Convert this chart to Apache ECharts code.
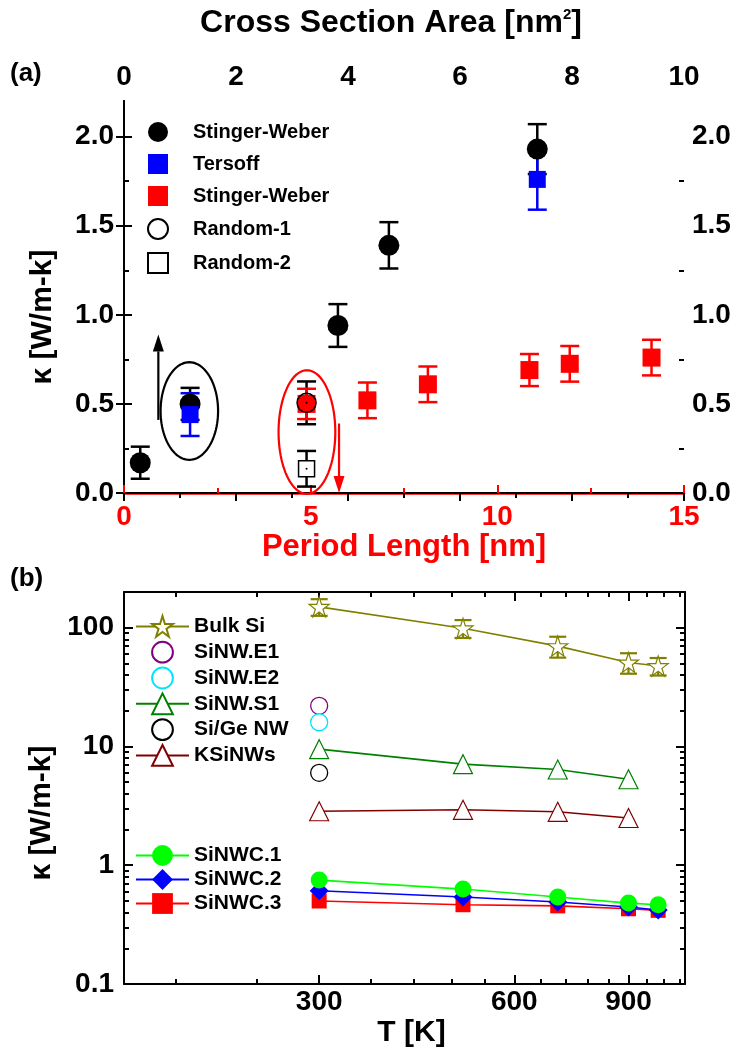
<!DOCTYPE html>
<html><head><meta charset="utf-8">
<script src="https://cdn.jsdelivr.net/npm/echarts@6/dist/echarts.min.js"></script>
<style>html,body{margin:0;padding:0;background:#fff}#c{width:739px;height:1055px}</style>
</head><body><div id="c"></div>
<script>
// ---------------- Panel (a) data ----------------
const areaSW = [0.29, 1.18, 3.82, 4.73, 7.38];          // Cross Section Area [nm^2]
const kappaSW = [0.17, 0.50, 0.94, 1.39, 1.93];
const errSW = [0.09, 0.09, 0.12, 0.13, 0.14];
const areaTersoff = [1.18, 7.38];
const kappaTersoff = [0.44, 1.76];
const errTersoff = [0.12, 0.17];
const periodSW = [4.89, 6.52, 8.14, 10.86, 11.94, 14.13]; // Period Length [nm]
const kappaSWp = [0.50, 0.52, 0.61, 0.69, 0.725, 0.76];
const errSWp = [0.085, 0.10, 0.10, 0.09, 0.10, 0.10];
const periodR1 = [4.89], kappaR1 = [0.506], errR1 = [0.12];
const periodR2 = [4.89], kappaR2 = [0.136], errR2 = [0.10];
// annotations in (period, kappa) units: [cx, cy, rx, ry] and [x, yFrom, yTo]
const ellipseBlack = [1.75, 0.46, 0.77, 0.274];
const ellipseRed = [4.90, 0.342, 0.76, 0.347];
const arrowBlack = [0.92, 0.41, 0.89];
const arrowRed = [5.76, 0.39, 0.0];
const kTicksA = [0, 0.5, 1, 1.5, 2];
const kMinorA = [0.25, 0.75, 1.25, 1.75];

// ---------------- Panel (b) data ----------------
const tBulk = [300, 500, 700, 900, 1000];
const kBulk = [150, 99, 70, 51, 47.6];
const eBulk = [24, 17, 14, 10, 8];
const tE = [300];
const kE1 = [22];
const kE2 = [16];
const kSiGe = [6.0];
const tS = [300, 500, 700, 900];
const kS1 = [9.5, 7.1, 6.4, 5.3];
const kKS = [2.85, 2.93, 2.82, 2.5];
const tC = [300, 500, 700, 900, 1000];
const kC1 = [0.75, 0.63, 0.54, 0.48, 0.465];
const kC2 = [0.61, 0.54, 0.49, 0.445, 0.42];
const kC3 = [0.50, 0.465, 0.455, 0.43, 0.417];
const tTicks = [300, 600, 900];
const tMinor = [180, 240, 360, 420, 480, 540, 660, 720, 780, 840, 960, 1020, 1080];
const kTicksB = [0.1, 1, 10, 100];
const kMinorB = [0.2,0.3,0.4,0.5,0.6,0.7,0.8,0.9,2,3,4,5,6,7,8,9,20,30,40,50,60,70,80,90];

const FONT = 'Liberation Sans, Arial, sans-serif';
const zip = (...a) => a[0].map((_, i) => a.map(v => v[i]));

function errRender(color, capHalf, lw) {
  return function (params, api) {
    const x = api.value(0), y = api.value(1), e = api.value(2);
    const p0 = api.coord([x, y - e]), p1 = api.coord([x, y + e]);
    const st = {stroke: color, lineWidth: lw};
    return {type: 'group', children: [
      {type: 'line', shape: {x1: p0[0], y1: p0[1], x2: p1[0], y2: p1[1]}, style: st},
      {type: 'line', shape: {x1: p0[0]-capHalf, y1: p0[1], x2: p0[0]+capHalf, y2: p0[1]}, style: st},
      {type: 'line', shape: {x1: p1[0]-capHalf, y1: p1[1], x2: p1[0]+capHalf, y2: p1[1]}, style: st}
    ]};
  };
}
function errSeries(name, xi, yi, xs, ys, es, color, capHalf, lw) {
  return {type: 'custom', name: name, xAxisIndex: xi, yAxisIndex: yi, clip: false,
    data: zip(xs, ys, es), encode: {x: 0, y: 1}, renderItem: errRender(color, capHalf, lw), silent: true};
}
function ellipseRender(color) {
  return function (params, api) {
    const cx = api.value(0), cy = api.value(1), rx = api.value(2), ry = api.value(3);
    const pts = [];
    for (let i = 0; i <= 96; i++) {
      const t = i / 96 * 2 * Math.PI;
      pts.push(api.coord([cx + rx * Math.cos(t), cy + ry * Math.sin(t)]));
    }
    return {type: 'polyline', shape: {points: pts}, style: {stroke: color, lineWidth: 2.2, fill: null}};
  };
}
function arrowRender(color) {
  return function (params, api) {
    const x = api.value(0), y0 = api.value(1), y1 = api.value(2);
    const p0 = api.coord([x, y0]), p1 = api.coord([x, y1]);
    const dir = Math.sign(p1[1] - p0[1]);
    const hl = 17, hw = 5.5;
    const by = p1[1] - dir * hl;
    return {type: 'group', children: [
      {type: 'line', shape: {x1: p0[0], y1: p0[1], x2: p1[0], y2: by}, style: {stroke: color, lineWidth: 2.2}},
      {type: 'polygon', shape: {points: [[p1[0], p1[1]], [p1[0]-hw, by], [p1[0]+hw, by]]}, style: {fill: color}}
    ]};
  };
}

const lab = (color, size) => ({fontSize: size, fontWeight: 'bold', color: color, fontFamily: FONT});

const chart = echarts.init(document.getElementById('c'), null, {renderer: 'canvas'});

const starPath = 'path://M50,2 L61.2,36.3 L97.6,36.3 L68.2,57.6 L79.4,92 L50,70.8 L20.6,92 L31.8,57.6 L2.4,36.3 L38.8,36.3 Z';

const option = {
  backgroundColor: '#fff',
  animation: false,
  textStyle: {fontFamily: FONT},
  grid: [
    {left: 124, top: 101, width: 560, height: 392, outerBoundsMode: 'none'},
    {left: 124, top: 592, width: 561, height: 392, outerBoundsMode: 'none'}
  ],
  graphic: [
    {type: 'text', left: 10, top: 61, style: {text: '(a)', font: 'bold 26px ' + FONT, fill: '#000'}},
    {type: 'text', left: 10, top: 566, style: {text: '(b)', font: 'bold 26px ' + FONT, fill: '#000'}}
  ],
  legend: [
    {data: ['Stinger-Weber', 'Tersoff', 'Stinger-Weber ', 'Random-1', 'Random-2'],
     orient: 'vertical', left: 147, top: 122, itemWidth: 20, itemHeight: 20, itemGap: 12, padding: 0,
     selectedMode: false, textStyle: Object.assign({padding: [0, 0, 0, 20]}, lab('#000', 20))},
    {data: ['Bulk Si', 'SiNW.E1', 'SiNW.E2', 'SiNW.S1', 'Si/Ge NW', 'KSiNWs'],
     orient: 'vertical', left: 135, top: 615, itemWidth: 53, itemHeight: 26, itemGap: 3, padding: 0,
     selectedMode: false, textStyle: lab('#000', 21)},
    {data: ['SiNWC.1', 'SiNWC.2', 'SiNWC.3'],
     orient: 'vertical', left: 135, top: 845, itemWidth: 53, itemHeight: 26, itemGap: 3, padding: 0,
     selectedMode: false, textStyle: lab('#000', 21)}
  ],
  xAxis: [
    {gridIndex: 0, type: 'value', position: 'bottom', min: 0, max: 15, interval: 5,
     name: 'Period Length [nm]', nameLocation: 'middle', nameGap: 37, nameTextStyle: lab('#ff0000', 31),
     axisLine: {lineStyle: {color: '#ff0000', width: 2.5}},
     axisTick: {inside: true, length: 8, lineStyle: {color: '#ff0000', width: 2}},
     minorTick: {show: true, splitNumber: 2, length: 5, lineStyle: {color: '#ff0000', width: 2}},
     axisLabel: Object.assign({margin: 10}, lab('#ff0000', 28)),
     splitLine: {show: false}, minorSplitLine: {show: false}},
    {gridIndex: 0, type: 'value', position: 'top', min: 0, max: 10, interval: 2,
     name: '{a|Cross Section Area [nm}{s|2}{a|]}', nameLocation: 'middle', nameGap: 62,
     nameTextStyle: {padding: [0, 26, 0, 0],
       rich: {a: lab('#000', 32), s: Object.assign({padding: [0, 0, 17, 0]}, lab('#000', 15))}},
     axisLine: {lineStyle: {color: '#000', width: 2}},
     axisTick: {inside: true, length: 8, lineStyle: {color: '#000', width: 2}},
     minorTick: {show: true, splitNumber: 2, length: 5, lineStyle: {color: '#000', width: 2}},
     axisLabel: Object.assign({margin: 10}, lab('#000', 28)),
     splitLine: {show: false}, minorSplitLine: {show: false}},
    {gridIndex: 1, type: 'log', position: 'bottom', min: 150, max: 1100,
     name: 'T [K]', nameLocation: 'middle', nameGap: 34, nameTextStyle: Object.assign({padding: [0, 0, 0, 14]}, lab('#000', 30)),
     axisLine: {lineStyle: {color: '#000', width: 2}},
     axisTick: {inside: true, length: 9, customValues: tTicks, lineStyle: {color: '#000', width: 2}},
     axisLabel: Object.assign({margin: 4, customValues: tTicks}, lab('#000', 28)),
     splitLine: {show: false}},
    {gridIndex: 1, type: 'log', position: 'top', min: 150, max: 1100,
     axisLine: {lineStyle: {color: '#000', width: 2}},
     axisTick: {inside: true, length: 9, customValues: tTicks, lineStyle: {color: '#000', width: 2}},
     axisLabel: {show: false}, splitLine: {show: false}},
    {gridIndex: 1, type: 'log', position: 'bottom', min: 150, max: 1100,
     axisLine: {show: false},
     axisTick: {inside: true, length: 5, customValues: tMinor, lineStyle: {color: '#000', width: 2}},
     axisLabel: {show: false}, splitLine: {show: false}},
    {gridIndex: 1, type: 'log', position: 'top', min: 150, max: 1100,
     axisLine: {show: false},
     axisTick: {inside: true, length: 5, customValues: tMinor, lineStyle: {color: '#000', width: 2}},
     axisLabel: {show: false}, splitLine: {show: false}}
  ],
  yAxis: [
    {gridIndex: 0, type: 'value', position: 'left', min: 0, max: 2.2,
     name: 'κ [W/m-k]', nameLocation: 'middle', nameGap: 66,
     nameTextStyle: Object.assign({padding: [0, 40, 0, 0]}, lab('#000', 30)),
     axisLine: {lineStyle: {color: '#000', width: 2}},
     axisTick: {inside: true, length: 8, customValues: kTicksA, lineStyle: {color: '#000', width: 2}},
     axisLabel: Object.assign({margin: 10, customValues: kTicksA, formatter: v => v.toFixed(1)}, lab('#000', 28)),
     splitLine: {show: false}},
    {gridIndex: 0, type: 'value', position: 'right', min: 0, max: 2.2,
     axisLine: {lineStyle: {color: '#000', width: 2}},
     axisTick: {inside: true, length: 8, customValues: kTicksA, lineStyle: {color: '#000', width: 2}},
     axisLabel: Object.assign({margin: 8, customValues: kTicksA, formatter: v => v.toFixed(1)}, lab('#000', 28)),
     splitLine: {show: false}},
    {gridIndex: 0, type: 'value', position: 'left', min: 0, max: 2.2,
     axisLine: {show: false},
     axisTick: {inside: true, length: 5, customValues: kMinorA, lineStyle: {color: '#000', width: 2}},
     axisLabel: {show: false}, splitLine: {show: false}},
    {gridIndex: 0, type: 'value', position: 'right', min: 0, max: 2.2,
     axisLine: {show: false},
     axisTick: {inside: true, length: 5, customValues: kMinorA, lineStyle: {color: '#000', width: 2}},
     axisLabel: {show: false}, splitLine: {show: false}},
    {gridIndex: 1, type: 'log', position: 'left', min: 0.1, max: 200,
     name: 'κ [W/m-k]', nameLocation: 'middle', nameGap: 66,
     nameTextStyle: Object.assign({padding: [0, 50, 0, 0]}, lab('#000', 30)),
     axisLine: {lineStyle: {color: '#000', width: 2}},
     axisTick: {inside: true, length: 9, customValues: kTicksB, lineStyle: {color: '#000', width: 2}},
     axisLabel: Object.assign({margin: 10, customValues: kTicksB, formatter: v => String(v)}, lab('#000', 28)),
     splitLine: {show: false}},
    {gridIndex: 1, type: 'log', position: 'right', min: 0.1, max: 200,
     axisLine: {lineStyle: {color: '#000', width: 2}},
     axisTick: {inside: true, length: 9, customValues: kTicksB, lineStyle: {color: '#000', width: 2}},
     axisLabel: {show: false}, splitLine: {show: false}},
    {gridIndex: 1, type: 'log', position: 'left', min: 0.1, max: 200,
     axisLine: {show: false},
     axisTick: {inside: true, length: 5, customValues: kMinorB, lineStyle: {color: '#000', width: 2}},
     axisLabel: {show: false}, splitLine: {show: false}},
    {gridIndex: 1, type: 'log', position: 'right', min: 0.1, max: 200,
     axisLine: {show: false},
     axisTick: {inside: true, length: 5, customValues: kMinorB, lineStyle: {color: '#000', width: 2}},
     axisLabel: {show: false}, splitLine: {show: false}}
  ],
  series: [
    // ---- panel (a) ----
    errSeries('errSW', 1, 0, areaSW, kappaSW, errSW, '#000', 9.5, 2.5),
    {type: 'scatter', name: 'Stinger-Weber', xAxisIndex: 1, yAxisIndex: 0, symbol: 'circle', symbolSize: 21,
     itemStyle: {color: '#000', opacity: 1}, data: zip(areaSW, kappaSW)},
    errSeries('errT', 1, 0, areaTersoff, kappaTersoff, errTersoff, '#0000ff', 9.5, 2.5),
    {type: 'scatter', name: 'Tersoff', xAxisIndex: 1, yAxisIndex: 0, symbol: 'rect', symbolSize: 17,
     itemStyle: {color: '#0000ff', opacity: 1}, data: zip(areaTersoff, kappaTersoff)},
    errSeries('errR1', 0, 0, periodR1, kappaR1, errR1, '#000', 9.5, 2.5),
    errSeries('errSWp', 0, 0, periodSW, kappaSWp, errSWp, '#ff0000', 9.5, 2.5),
    {type: 'scatter', name: 'Stinger-Weber ', xAxisIndex: 0, yAxisIndex: 0, symbol: 'rect', symbolSize: 18,
     itemStyle: {color: '#ff0000', opacity: 1}, data: zip(periodSW, kappaSWp)},
    {type: 'scatter', name: 'Random-1', xAxisIndex: 0, yAxisIndex: 0, symbol: 'circle', symbolSize: 19,
     itemStyle: {color: 'rgba(0,0,0,0)', borderColor: '#000', borderWidth: 1.5, opacity: 1}, data: zip(periodR1, kappaR1)},
    errSeries('errR2', 0, 0, periodR2, kappaR2, errR2, '#000', 9.5, 2.5),
    {type: 'scatter', name: 'Random-2', xAxisIndex: 0, yAxisIndex: 0, symbol: 'rect', symbolSize: 16,
     itemStyle: {color: '#fff', borderColor: '#000', borderWidth: 1.5, opacity: 1}, data: zip(periodR2, kappaR2)},
    {type: 'scatter', name: 'dots', xAxisIndex: 0, yAxisIndex: 0, symbol: 'circle', symbolSize: 2,
     itemStyle: {color: '#000', opacity: 1}, data: zip(periodR1.concat(periodR2), kappaR1.concat(kappaR2)), silent: true},
    {type: 'custom', name: 'ellipseBlack', xAxisIndex: 0, yAxisIndex: 0, clip: false, silent: true,
     data: [ellipseBlack], encode: {x: 0, y: 1}, renderItem: ellipseRender('#000')},
    {type: 'custom', name: 'ellipseRed', xAxisIndex: 0, yAxisIndex: 0, clip: false, silent: true,
     data: [ellipseRed], encode: {x: 0, y: 1}, renderItem: ellipseRender('#ff0000')},
    {type: 'custom', name: 'arrowBlack', xAxisIndex: 0, yAxisIndex: 0, clip: false, silent: true,
     data: [arrowBlack], encode: {x: 0, y: 1}, renderItem: arrowRender('#000')},
    {type: 'custom', name: 'arrowRed', xAxisIndex: 0, yAxisIndex: 0, clip: false, silent: true,
     data: [arrowRed], encode: {x: 0, y: 1}, renderItem: arrowRender('#ff0000')},
    // ---- panel (b) ----
    errSeries('errBulk', 2, 4, tBulk, kBulk, eBulk, '#808000', 8.5, 2.2),
    {type: 'line', name: 'Bulk Si', xAxisIndex: 2, yAxisIndex: 4, symbol: starPath, symbolSize: 20,
     lineStyle: {color: '#808000', width: 1.6}, itemStyle: {color: '#fff', borderColor: '#808000', borderWidth: 1.2},
     data: zip(tBulk, kBulk)},
    {type: 'line', name: 'SiNW.E1', xAxisIndex: 2, yAxisIndex: 4, symbol: 'circle', symbolSize: 17,
     lineStyle: {color: '#800080', width: 0}, itemStyle: {color: '#fff', borderColor: '#800080', borderWidth: 1.3},
     data: zip(tE, kE1)},
    {type: 'line', name: 'SiNW.E2', xAxisIndex: 2, yAxisIndex: 4, symbol: 'circle', symbolSize: 17,
     lineStyle: {color: '#00ffff', width: 0}, itemStyle: {color: '#fff', borderColor: '#00e5ff', borderWidth: 1.3},
     data: zip(tE, kE2)},
    {type: 'line', name: 'SiNW.S1', xAxisIndex: 2, yAxisIndex: 4, symbol: 'triangle', symbolSize: 19,
     lineStyle: {color: '#008000', width: 1.6}, itemStyle: {color: '#fff', borderColor: '#008000', borderWidth: 1.2},
     data: zip(tS, kS1)},
    {type: 'line', name: 'Si/Ge NW', xAxisIndex: 2, yAxisIndex: 4, symbol: 'circle', symbolSize: 17,
     lineStyle: {color: '#000', width: 0}, itemStyle: {color: '#fff', borderColor: '#000', borderWidth: 1.3},
     data: zip(tE, kSiGe)},
    {type: 'line', name: 'KSiNWs', xAxisIndex: 2, yAxisIndex: 4, symbol: 'triangle', symbolSize: 19,
     lineStyle: {color: '#800000', width: 1.6}, itemStyle: {color: '#fff', borderColor: '#800000', borderWidth: 1.2},
     data: zip(tS, kKS)},
    {type: 'line', name: 'SiNWC.3', xAxisIndex: 2, yAxisIndex: 4, symbol: 'rect', symbolSize: 15,
     lineStyle: {color: '#ff0000', width: 1.6}, itemStyle: {color: '#ff0000'}, data: zip(tC, kC3)},
    {type: 'line', name: 'SiNWC.2', xAxisIndex: 2, yAxisIndex: 4, symbol: 'diamond', symbolSize: 19,
     lineStyle: {color: '#0000ff', width: 1.6}, itemStyle: {color: '#0000ff'}, data: zip(tC, kC2)},
    {type: 'line', name: 'SiNWC.1', xAxisIndex: 2, yAxisIndex: 4, symbol: 'circle', symbolSize: 17,
     lineStyle: {color: '#00ff00', width: 1.6}, itemStyle: {color: '#00ff00'}, data: zip(tC, kC1)}
  ]
};
chart.setOption(option);
</script></body></html>
